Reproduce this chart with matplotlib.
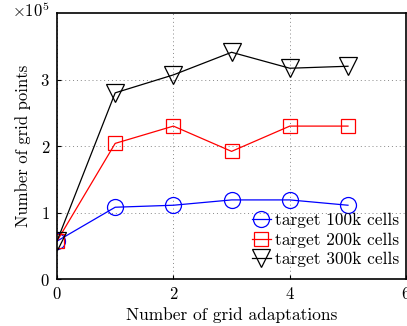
import matplotlib
matplotlib.use("Agg")
import matplotlib.pyplot as plt

plt.rcParams['font.family'] = ['cmr10', 'DejaVu Serif']
plt.rcParams['mathtext.fontset'] = 'cm'
plt.rcParams['axes.formatter.use_mathtext'] = True

adaptations = [0, 1, 2, 3, 4, 5]
points_100k = [57000, 108000, 111000, 119000, 119000, 111000]
points_200k = [57000, 204000, 230000, 192000, 230000, 230000]
points_300k = [57000, 280000, 307000, 341000, 317000, 320000]
scale = 1e5

fig = plt.figure(figsize=(4.07, 3.26), dpi=100)
ax = fig.add_axes([0.140, 0.144, 0.858, 0.816])

ax.plot(adaptations, [v / scale for v in points_100k], color='blue', lw=0.9,
        marker='o', ms=11.5, mfc='none', mec='blue', mew=0.9, label='target 100k cells')
ax.plot(adaptations, [v / scale for v in points_200k], color='red', lw=0.9,
        marker='s', ms=9.5, mfc='none', mec='red', mew=0.9, label='target 200k cells')
ax.plot(adaptations, [v / scale for v in points_300k], color='black', lw=0.9,
        marker='v', ms=13, mfc='none', mec='black', mew=0.9, label='target 300k cells')

ax.set_xlim(0, 6)
ax.set_ylim(0, 4)
ax.set_xticks([0, 2, 4, 6])
ax.set_yticks([0, 1, 2, 3])
ax.grid(True, linestyle=(0, (1, 3)), color='#888888', linewidth=0.7)
ax.tick_params(direction='in', labelsize=12, length=3, pad=5)
for s in ax.spines.values():
    s.set_linewidth(1.2)

fig.text(0.030, 0.998, r'$\times10^5$', ha='left', va='top', fontsize=12)
ax.set_xlabel('Number of grid adaptations', fontsize=12.5, labelpad=4)
ax.set_ylabel('Number of grid points', fontsize=12, labelpad=7)

ax.legend(loc='lower right', frameon=False, fontsize=12.5, handlelength=1.1,
          handletextpad=0.25, labelspacing=0.22, borderaxespad=0.0,
          bbox_to_anchor=(1.0, 0.02))

fig.savefig('out.png', dpi=100)
